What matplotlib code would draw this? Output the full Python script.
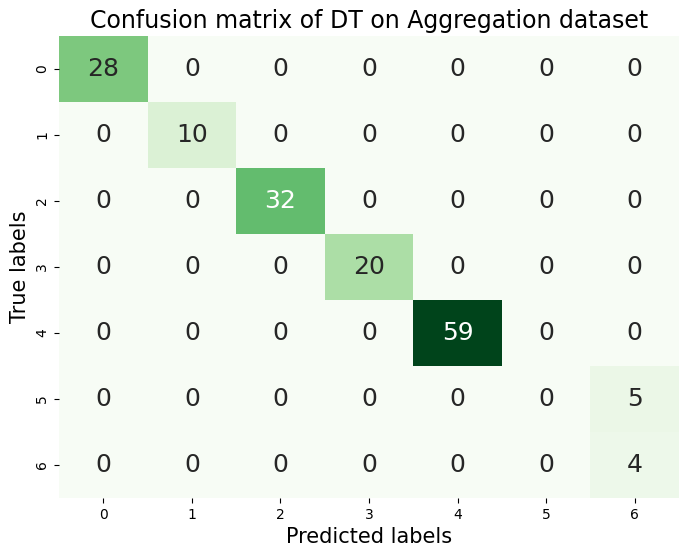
import numpy as np
import matplotlib
matplotlib.use("Agg")
import matplotlib.pyplot as plt
import seaborn as sns

labels = [0, 1, 2, 3, 4, 5, 6]
cm = np.array([
    [28, 0, 0, 0, 0, 0, 0],
    [0, 10, 0, 0, 0, 0, 0],
    [0, 0, 32, 0, 0, 0, 0],
    [0, 0, 0, 20, 0, 0, 0],
    [0, 0, 0, 0, 59, 0, 0],
    [0, 0, 0, 0, 0, 0, 5],
    [0, 0, 0, 0, 0, 0, 4],
])

fig = plt.figure(figsize=(6.89, 5.58), dpi=100)
ax = fig.add_axes([0.0856, 0.1075, 0.9, 0.828])
sns.heatmap(cm, annot=True, fmt="d", cmap="Greens", cbar=False,
            annot_kws={"size": 18}, xticklabels=labels, yticklabels=labels, ax=ax)
ax.set_title("Confusion matrix of DT on Aggregation dataset", fontsize=17)
ax.set_xlabel("Predicted labels", fontsize=15)
ax.set_ylabel("True labels", fontsize=15)
fig.savefig("out.png", dpi=100)
